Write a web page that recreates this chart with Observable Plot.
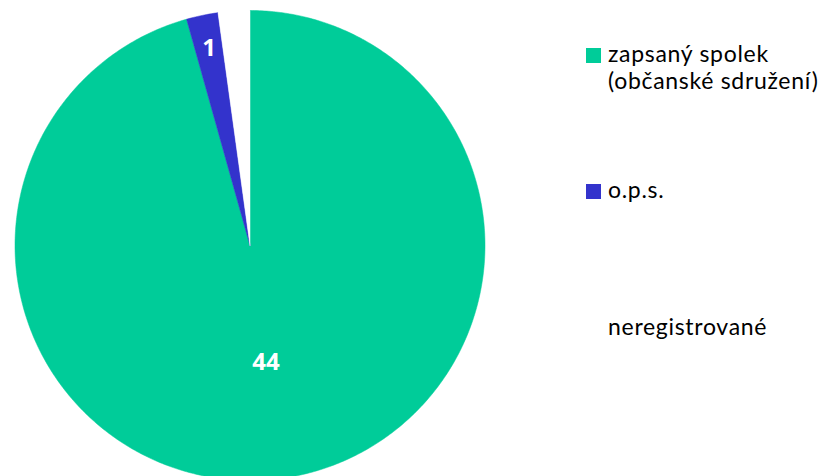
<!DOCTYPE html>
<html>
<head>
<meta charset="utf-8">
<script src="https://cdn.jsdelivr.net/npm/d3@7"></script>
<script src="https://cdn.jsdelivr.net/npm/@observablehq/plot@0.6"></script>
<style>
  html, body { margin: 0; padding: 0; background: #fff; }
  #wrap { position: relative; width: 825px; height: 476px; overflow: hidden; }
  #legend { position: absolute; left: 586px; top: 0; font-family: Lato, "Open Sans", sans-serif; font-size: 23px; letter-spacing: 0.7px; color: #000; }
  .item { position: absolute; left: 0; white-space: nowrap; line-height: 27px; }
  .sw { position: absolute; left: 0; top: 8px; width: 15px; height: 15px; }
  .txt { position: absolute; left: 22px; top: 0; }
</style>
</head>
<body>
<div id="wrap"><div id="chart"></div><div id="legend"></div></div>
<script>
const categories = ["zapsaný spolek (občanské sdružení)", "o.p.s.", "neregistrované"];
const legendLines = [["zapsaný spolek", "(občanské sdružení)"], ["o.p.s."], ["neregistrované"]];
const values = [44, 1, 1];
const colors = ["#00CC99", "#3333CC", "#FFFFFF"];
const showLabel = [true, true, false];

const pie = d3.pie().sort(null).value(d => d.value);
const table = categories.map((c, i) => ({category: c, value: values[i], color: colors[i], show: showLabel[i]}));
const arcs = pie(table);

// wedge outlines sampled from pie angles (angle 0 = top, clockwise)
const wedgePts = [];
arcs.forEach((a, i) => {
  const n = Math.max(4, Math.ceil((a.endAngle - a.startAngle) / 0.01));
  wedgePts.push({k: i, x: 0, y: 0, color: a.data.color});
  for (let j = 0; j <= n; j++) {
    const t = a.startAngle + (a.endAngle - a.startAngle) * j / n;
    wedgePts.push({k: i, x: Math.sin(t), y: Math.cos(t), color: a.data.color});
  }
  wedgePts.push({k: i, x: 0, y: 0, color: a.data.color});
});

const labels = arcs.filter(a => a.data.show).map(a => {
  const mid = (a.startAngle + a.endAngle) / 2;
  const r = (a.endAngle - a.startAngle) > 1 ? 0.5 : 0.855;
  return {x: Math.sin(mid) * r, y: Math.cos(mid) * r, text: String(a.data.value)};
});

const chart = Plot.plot({
  width: 825,
  height: 476,
  margin: 0,
  x: {domain: [-1, 1], range: [14.5, 484.5], axis: null},
  y: {domain: [-1, 1], range: [480, 10], axis: null},
  marks: [
    Plot.line(wedgePts, {x: "x", y: "y", z: "k", fill: "color", stroke: "color", strokeWidth: 0.5, curve: "linear"}),
    Plot.text(labels, {x: "x", y: "y", text: "text", fill: "white", fontWeight: "bold", fontSize: 24, fontFamily: "'Open Sans', sans-serif"})
  ]
});
document.getElementById("chart").appendChild(chart);

const legendTops = [40, 176, 313];
const legend = document.getElementById("legend");
legendLines.forEach((lines, i) => {
  const item = document.createElement("div");
  item.className = "item";
  item.style.top = legendTops[i] + "px";
  if (colors[i] !== "#FFFFFF") {
    const sw = document.createElement("div");
    sw.className = "sw";
    sw.style.background = colors[i];
    item.appendChild(sw);
  }
  const t = document.createElement("div");
  t.className = "txt";
  t.innerHTML = lines.join("<br>");
  item.appendChild(t);
  legend.appendChild(item);
});
</script>
</body>
</html>
